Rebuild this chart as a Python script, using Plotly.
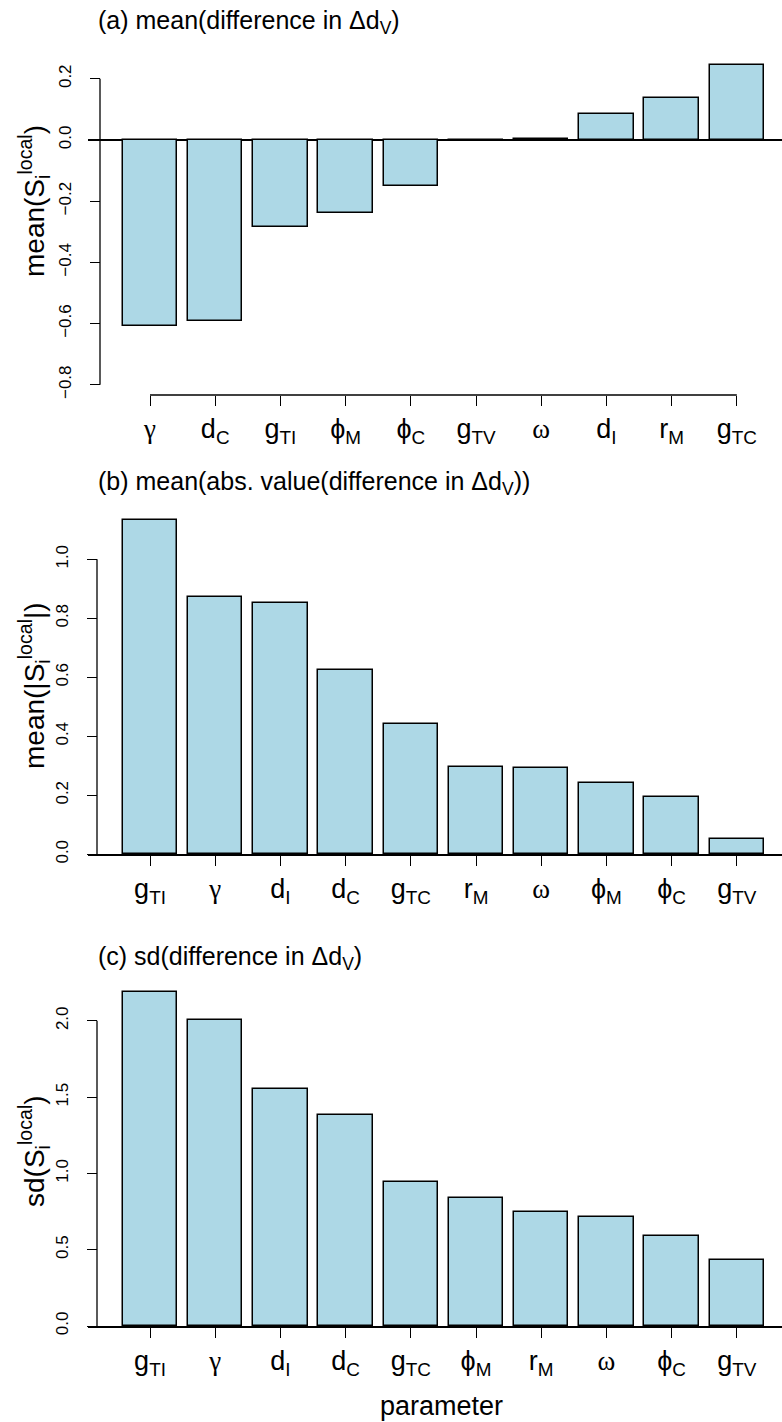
import plotly.graph_objects as go

# ---------------- data ----------------
G = '<span style="font-family:Liberation Serif">γ</span>'
O = '<span style="font-family:Liberation Serif">ω</span>'
params_a = [G, "d<sub>C</sub>", "g<sub>TI</sub>", "ϕ<sub>M</sub>", "ϕ<sub>C</sub>",
            "g<sub>TV</sub>", O, "d<sub>I</sub>", "r<sub>M</sub>", "g<sub>TC</sub>"]
mean_diff = [-0.608, -0.592, -0.283, -0.240, -0.151, -0.003, 0.003, 0.084, 0.137, 0.244]

params_b = ["g<sub>TI</sub>", G, "d<sub>I</sub>", "d<sub>C</sub>", "g<sub>TC</sub>",
            "r<sub>M</sub>", O, "ϕ<sub>M</sub>", "ϕ<sub>C</sub>", "g<sub>TV</sub>"]
mean_abs_diff = [1.133, 0.872, 0.851, 0.624, 0.442, 0.296, 0.292, 0.243, 0.194, 0.053]

params_c = ["g<sub>TI</sub>", G, "d<sub>I</sub>", "d<sub>C</sub>", "g<sub>TC</sub>",
            "ϕ<sub>M</sub>", "r<sub>M</sub>", O, "ϕ<sub>C</sub>", "g<sub>TV</sub>"]
sd_diff = [2.19, 2.005, 1.553, 1.383, 0.944, 0.839, 0.747, 0.714, 0.590, 0.432]

ticks_a = [-0.8, -0.6, -0.4, -0.2, 0.0, 0.2]
ticks_b = [0.0, 0.2, 0.4, 0.6, 0.8, 1.0]
ticks_c = [0.0, 0.5, 1.0, 1.5, 2.0]

titles = ["(a) mean(difference in Δd<sub>V</sub>)",
          "(b) mean(abs. value(difference in Δd<sub>V</sub>))",
          "(c) sd(difference in Δd<sub>V</sub>)"]
ylabels = ["mean(S<sub>i</sub><sup>local</sup>)",
           "mean(|S<sub>i</sub><sup>local</sup>|)",
           "sd(S<sub>i</sub><sup>local</sup>)"]
xlabel = "parameter"

# ---------------- layout constants ----------------
W, H = 782, 1422
FONT = "Liberation Sans, Arial, Helvetica, sans-serif"
TITLE = 25
YLAB = 28
XLAB = 27
CAT = 27
SMALL = 17
BAR_COLOR = "#ADD8E6"
XL = 88
XRANGE = [-0.951, 9.693]
BAR_W = 0.836


def py(p):
    return 1 - p / H


def px(p):
    return p / W


def fmt(v):
    s = f"{abs(v):.1f}"
    return ("−" + s) if v < 0 else s


fig = go.Figure()
panels = [
    (params_a, mean_diff, ticks_a, (60, 400), [-0.8497, 0.2614], 100),
    (params_b, mean_abs_diff, ticks_b, (500, 854.3), [0, 1.201], 97),
    (params_c, sd_diff, ticks_c, (970, 1326), [0, 2.333], 97),
]

shapes = []
for i, (cats, vals, tks, (ptop, pbot), yr, yaxpx) in enumerate(panels):
    n = "" if i == 0 else str(i + 1)
    fig.add_trace(go.Bar(
        x=cats, y=vals, width=BAR_W,
        marker=dict(color=BAR_COLOR, line=dict(color="black", width=1.5)),
        xaxis="x" + n, yaxis="y" + n, showlegend=False,
    ))
    xa = dict(
        domain=[px(XL), 1], range=XRANGE, type="category",
        ticks="outside", ticklen=10, tickwidth=1.3, tickcolor="black",
        tickfont=dict(family=FONT, size=CAT, color="black"),
        showgrid=False, zeroline=False, automargin=False, fixedrange=True,
    )
    ya = dict(
        domain=[py(pbot), py(ptop)], range=yr,
        anchor="free", position=px(yaxpx),
        tickmode="array", tickvals=tks, ticktext=[fmt(t) for t in tks],
        tickangle=-90, ticks="outside", ticklen=10, tickwidth=1.3, tickcolor="black",
        ticklabelstandoff=12,
        tickfont=dict(family=FONT, size=SMALL, color="black"),
        showgrid=False, showline=False, automargin=False, fixedrange=True,
    )
    if i == 0:
        xa.update(anchor="free", position=py(395), showline=False)
        ya.update(zeroline=True, zerolinecolor="black", zerolinewidth=1.5)
        shapes.append(dict(type="line", xref="x", yref="paper",
                           x0=cats[0], x1=cats[-1], y0=py(395), y1=py(395),
                           line=dict(color="black", width=1.3)))
    else:
        xa.update(anchor="y" + n, showline=True, linecolor="black", linewidth=1.5)
        ya.update(zeroline=False)
    shapes.append(dict(type="line", xref="paper", yref="y" + n,
                       x0=px(yaxpx), x1=px(yaxpx), y0=min(tks), y1=max(tks),
                       line=dict(color="black", width=1.3)))
    fig.layout["xaxis" + n] = xa
    fig.layout["yaxis" + n] = ya

annotations = []
title_y = [22, 483, 958]
ylab_y = [201, 686, 1151]
for i in range(3):
    annotations.append(dict(text=titles[i], xref="paper", yref="paper",
                            x=px(96), y=py(title_y[i]), xanchor="left", yanchor="middle",
                            showarrow=False, font=dict(family=FONT, size=TITLE, color="black")))
    annotations.append(dict(text=ylabels[i], xref="paper", yref="paper",
                            x=px(34), y=py(ylab_y[i]), xanchor="center", yanchor="middle",
                            textangle=-90, showarrow=False,
                            font=dict(family=FONT, size=YLAB, color="black")))
annotations.append(dict(text=xlabel, xref="paper", yref="paper",
                        x=px(442), y=py(1406), xanchor="center", yanchor="middle",
                        showarrow=False, font=dict(family=FONT, size=XLAB, color="black")))

fig.update_layout(
    width=W, height=H,
    margin=dict(l=0, r=0, t=0, b=0),
    paper_bgcolor="white", plot_bgcolor="white",
    shapes=shapes, annotations=annotations,
    bargap=0, showlegend=False,
)

fig.write_html("out.html")
